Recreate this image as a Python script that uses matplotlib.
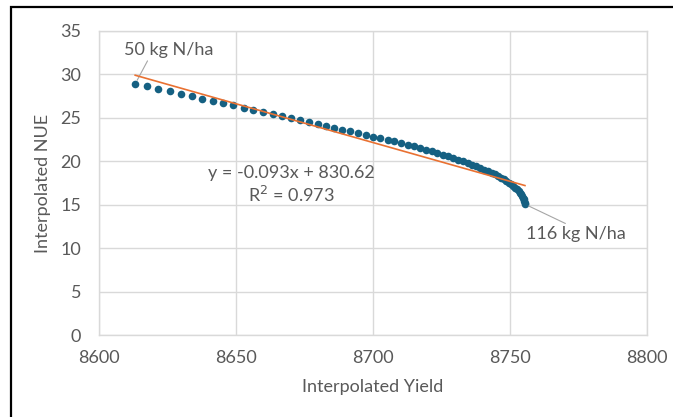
import numpy as np
import matplotlib
matplotlib.use("Agg")
import matplotlib.pyplot as plt
from matplotlib.patches import Rectangle

# ---- data ----
n_rates = list(range(50, 117))  # kg N/ha, one point per rate
yield_vals = [
    8613.1, 8617.4, 8621.5, 8625.7, 8629.7, 8633.7, 8637.6, 8641.5, 8645.3, 8649.0,
    8652.7, 8656.3, 8659.9, 8663.3, 8666.7, 8670.1, 8673.4, 8676.6, 8679.8, 8682.8,
    8685.9, 8688.8, 8691.7, 8694.6, 8697.3, 8700.0, 8702.7, 8705.3, 8707.8, 8710.2,
    8712.6, 8714.9, 8717.2, 8719.4, 8721.5, 8723.5, 8725.5, 8727.5, 8729.3, 8731.1,
    8732.9, 8734.6, 8736.2, 8737.7, 8739.2, 8740.6, 8742.0, 8743.3, 8744.5, 8745.6,
    8746.7, 8747.8, 8748.7, 8749.6, 8750.5, 8751.2, 8751.9, 8752.6, 8753.2, 8753.7,
    8754.1, 8754.5, 8754.8, 8755.1, 8755.3, 8755.4, 8755.5,
]
nue_vals = [
    28.90, 28.61, 28.32, 28.04, 27.76, 27.49, 27.22, 26.95, 26.69, 26.43,
    26.18, 25.93, 25.68, 25.44, 25.20, 24.97, 24.74, 24.51, 24.29, 24.07,
    23.86, 23.65, 23.44, 23.24, 23.04, 22.85, 22.66, 22.47, 22.28, 22.09,
    21.90, 21.71, 21.52, 21.33, 21.14, 20.95, 20.76, 20.57, 20.38, 20.19,
    20.00, 19.81, 19.62, 19.43, 19.24, 19.05, 18.86, 18.67, 18.48, 18.29,
    18.10, 17.91, 17.72, 17.53, 17.34, 17.15, 16.96, 16.77, 16.58, 16.39,
    16.20, 16.01, 15.82, 15.63, 15.44, 15.25, 15.06,
]
x_ticks = [8600, 8650, 8700, 8750, 8800]
y_ticks = [0, 5, 10, 15, 20, 25, 30, 35]
eq_text = "y = -0.093x + 830.62\nR$^2$ = 0.973"
first_label = "50 kg N/ha"
last_label = "116 kg N/ha"

# ---- styling ----
plt.rcParams['font.family'] = ['Lato', 'DejaVu Sans']
text_col = '#595959'
grid_col = '#d9d9d9'
marker_col = '#156082'
trend_col = '#E97132'
fs = 13

fig = plt.figure(figsize=(6.73, 4.17), dpi=100)
ax = fig.add_axes([0.1476, 0.1966, 0.961 - 0.1476, 0.9257 - 0.1966])

ax.scatter(yield_vals, nue_vals, s=30, color=marker_col, zorder=3, linewidths=0)

coef = np.polyfit(yield_vals, nue_vals, 1)
xs = np.array([min(yield_vals), max(yield_vals)])
ax.plot(xs, np.polyval(coef, xs), color=trend_col, lw=1.2, zorder=4)

ax.set_xlim(x_ticks[0], x_ticks[-1])
ax.set_ylim(y_ticks[0], y_ticks[-1])
ax.set_xticks(x_ticks)
ax.set_yticks(y_ticks)
ax.grid(True, color=grid_col, lw=1.0)
ax.set_axisbelow(True)
for s in ax.spines.values():
    s.set_color(grid_col)
    s.set_linewidth(1.0)
ax.tick_params(length=0, labelsize=fs, labelcolor=text_col)
ax.tick_params(axis='x', pad=11)
ax.tick_params(axis='y', pad=13)
ax.set_xlabel("Interpolated Yield", fontsize=fs, color=text_col, labelpad=9)
ax.set_ylabel("Interpolated NUE", fontsize=fs, color=text_col, labelpad=7)

# equation label
ax.text(8670, 17.3, eq_text, ha='center', va='center', fontsize=fs,
        color=text_col, linespacing=1.25)

# data labels with leader lines
ax.annotate(first_label, xy=(yield_vals[0], nue_vals[0]), xytext=(8609, 32.8),
            fontsize=fs, color=text_col, ha='left', va='center',
            arrowprops=dict(arrowstyle='-', color='#a6a6a6', lw=0.8,
                            shrinkA=0, shrinkB=3, relpos=(0.28, 0.0)))
ax.annotate(last_label, xy=(yield_vals[-1], nue_vals[-1]), xytext=(8756, 11.6),
            fontsize=fs, color=text_col, ha='left', va='center',
            arrowprops=dict(arrowstyle='-', color='#a6a6a6', lw=0.8,
                            shrinkA=0, shrinkB=3, relpos=(0.45, 1.0)))

# outer black frame (partially cut off at right/bottom like the reference)
fig.patches.append(Rectangle((11 / 673, -0.1), 1.2, 1 - 7 / 417 + 0.1,
                             transform=fig.transFigure, fill=False,
                             edgecolor='black', lw=1.6))

fig.savefig("out.png", dpi=100)
